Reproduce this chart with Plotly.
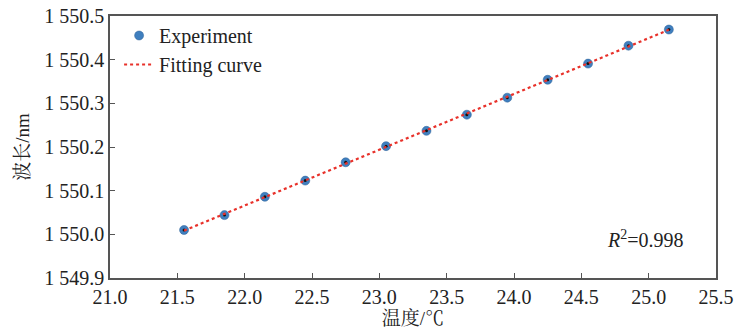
import numpy as np
import plotly.graph_objects as go

temp = [21.55, 21.85, 22.15, 22.45, 22.75, 23.05, 23.35, 23.65, 23.95, 24.25, 24.55, 24.85, 25.15]
wavelength = [1550.010, 1550.044, 1550.086, 1550.123, 1550.165, 1550.202, 1550.237,
              1550.274, 1550.313, 1550.354, 1550.391, 1550.432, 1550.469]

xticks = [21.0, 21.5, 22.0, 22.5, 23.0, 23.5, 24.0, 24.5, 25.0, 25.5]
yticks = [1549.9, 1550.0, 1550.1, 1550.2, 1550.3, 1550.4, 1550.5]
ytick_labels = ["1 549.9", "1 550.0", "1 550.1", "1 550.2", "1 550.3", "1 550.4", "1 550.5"]

slope, intercept = np.polyfit(temp, wavelength, 1)
fit_x = [temp[0], temp[-1]]
fit_y = [slope * v + intercept for v in fit_x]

FONT = "Liberation Serif, Times New Roman, Noto Serif CJK SC, Noto Sans CJK SC, serif"

fig = go.Figure()
fig.add_trace(go.Scatter(x=temp, y=wavelength, mode="markers", name="Experiment",
                         marker=dict(color="#3f7fbf", size=9,
                                     line=dict(color="#2c5f94", width=0.5))))
fig.add_trace(go.Scatter(x=temp, y=wavelength, mode="markers", showlegend=False,
                         marker=dict(color="#111111", size=3)))
fig.add_trace(go.Scatter(x=fit_x, y=fit_y, mode="lines", name="Fitting curve",
                         line=dict(color="#e8312a", width=2.2, dash="dot")))

axis_common = dict(showgrid=False, zeroline=False, showline=True, linecolor="#555555",
                   linewidth=1.5, mirror=True, ticks="inside", ticklen=5,
                   tickcolor="#555555", tickwidth=1.2, automargin=False,
                   tickfont=dict(family=FONT, size=20, color="#222222"))

fig.update_layout(
    width=736, height=331,
    margin=dict(l=110, r=20, t=16, b=53),
    plot_bgcolor="white", paper_bgcolor="white",
    font=dict(family=FONT, size=20, color="#222222"),
    xaxis=dict(range=[21.0, 25.5], tickvals=xticks,
               ticktext=[f"{v:.1f}" for v in xticks],
               title=dict(text="温度/℃", standoff=4,
                          font=dict(family=FONT, size=19)),
               **axis_common),
    yaxis=dict(range=[1549.9, 1550.5], tickvals=yticks, ticktext=ytick_labels,
               title=dict(text="波长/nm", standoff=10,
                          font=dict(family=FONT, size=19)),
               **axis_common),
    legend=dict(x=0.015, y=1.0, xanchor="left", yanchor="top",
                bgcolor="rgba(0,0,0,0)", font=dict(family=FONT, size=20),
                tracegroupgap=0, itemwidth=30),
    showlegend=True,
)

fig.add_annotation(x=0.95, y=0.15, xref="paper", yref="paper", xanchor="right",
                   yanchor="middle", showarrow=False,
                   text="<i>R</i><sup>2</sup>=0.998",
                   font=dict(family=FONT, size=20, color="#222222"))

fig.write_html("out.html")
